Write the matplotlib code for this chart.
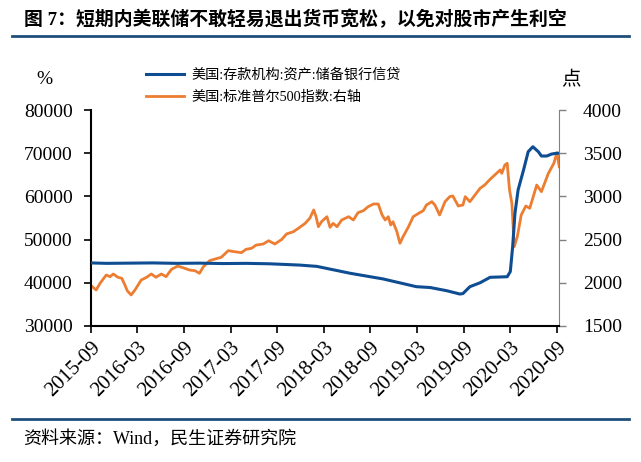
import matplotlib
matplotlib.use('Agg')
import matplotlib.pyplot as plt
from matplotlib.lines import Line2D

# month offsets from 2015-09 and values
credit_month = [0.0, 2.0, 5.0, 8.0, 11.0, 14.0, 17.0, 20.0, 23.0, 26.9, 29.1, 33.4,
                37.6, 41.9, 43.7, 45.8, 47.5, 47.9, 48.8, 50.1, 51.4, 53.6, 54.0,
                54.3, 54.6, 55.0, 55.7, 56.3, 56.9, 57.6, 58.0, 58.7, 59.3, 59.8, 60.3]
credit = [44600, 44500, 44550, 44600, 44500, 44550, 44450, 44500, 44400, 44100, 43800, 42200,
          40900, 39100, 38900, 38170, 37400, 37500, 39100, 40000, 41270, 41400, 42600,
          48350, 56100, 61500, 66100, 70350, 71500, 70350, 69350, 69350, 69800, 69950, 70000]

spx_month = [0.0, 0.7, 1.2, 2.0, 2.5, 2.9, 3.5, 4.0, 4.4, 4.7, 5.2, 5.7, 6.5, 7.2, 7.8,
             8.4, 9.1, 9.7, 10.4, 11.2, 12.1, 12.7, 13.4, 14.0, 14.5, 15.3, 15.9, 16.8,
             17.7, 18.5, 19.4, 20.0, 20.7, 21.3, 22.2, 22.9, 23.7, 24.6, 25.2, 26.1,
             26.9, 27.6, 28.2, 28.7, 29.0, 29.3, 29.7, 30.4, 30.8, 31.2, 31.7, 32.3,
             33.2, 33.8, 34.4, 35.1, 35.7, 36.4, 37.0, 37.5, 37.9, 38.3, 38.6, 38.9,
             39.4, 39.8, 40.2, 40.9, 41.5, 42.2, 42.8, 43.2, 43.9, 44.3, 44.9, 45.6,
             46.2, 46.6, 47.3, 47.9, 48.2, 48.8, 50.1, 50.7, 51.4, 52.0, 52.7, 52.9,
             53.3, 53.6, 53.9, 54.2, 54.5, 54.9, 55.4, 56.0, 56.5, 57.4, 58.0, 58.9,
             59.6, 60.0, 60.3]
spx = [1970, 1917, 1994, 2090, 2071, 2102, 2064, 2052, 1975, 1909, 1859, 1917, 2032, 2064, 2102,
       2064, 2102, 2071, 2156, 2194, 2168, 2148, 2140, 2110, 2186, 2256, 2272, 2295,
       2372, 2360, 2349, 2388, 2399, 2437, 2449, 2487, 2449, 2503, 2565, 2592,
       2642, 2688, 2747, 2843, 2765, 2649, 2707, 2765, 2642, 2688, 2649, 2727,
       2765, 2727, 2812, 2835, 2881, 2912, 2912, 2785, 2727, 2765, 2669, 2707,
       2592, 2457, 2534, 2649, 2765, 2804, 2835, 2900, 2939, 2900, 2785, 2939,
       2997, 3005, 2889, 2900, 2997, 2939, 3093, 3132, 3198, 3248, 3306, 3267,
       3364, 3383, 3074, 2920, 2418, 2534, 2785, 2889, 2862, 3132, 3055, 3267,
       3383, 3506, 3344]

tick_months = [0, 6, 12, 18, 24, 30, 36, 42, 48, 54, 60]
tick_labels = ['2015-09', '2016-03', '2016-09', '2017-03', '2017-09', '2018-03',
               '2018-09', '2019-03', '2019-09', '2020-03', '2020-09']

label_credit = '美国:存款机构:资产:储备银行信贷'
label_spx = '美国:标准普尔500指数:右轴'
title = '图 7：短期内美联储不敢轻易退出货币宽松，以免对股市产生利空'
source = '资料来源：Wind，民生证券研究院'

fonts = ['Liberation Serif', 'Noto Sans CJK SC', 'DejaVu Sans']
plt.rcParams['font.family'] = fonts

blue = '#0E4D92'
orange = '#ED7D31'
rule = '#1F4E79'

fig = plt.figure(figsize=(6.41, 4.62), dpi=100)
ax = fig.add_axes([0.1415, 0.2944, 0.7310, 0.4675])
ax2 = ax.twinx()

l1, = ax.plot(credit_month, credit, color=blue, lw=2.2, label=label_credit, zorder=3)
l2, = ax2.plot(spx_month, spx, color=orange, lw=2.0, label=label_spx)
ax.set_zorder(ax2.get_zorder() + 1)
ax.patch.set_visible(False)

ax.set_xlim(0, 60.3)
ax.set_ylim(30000, 80000)
ax2.set_ylim(1500, 4000)
ax.set_yticks(range(30000, 80001, 10000))
ax2.set_yticks(range(1500, 4001, 500))
ax.set_xticks(tick_months)
ax.set_xticklabels(tick_labels, rotation=45, ha='right', rotation_mode='anchor')

for a in (ax, ax2):
    a.spines['top'].set_visible(False)
ax.spines['right'].set_visible(False)
ax2.spines['left'].set_visible(False)
ax2.spines['bottom'].set_visible(False)
ax2.spines['right'].set_color('#808080')
ax.spines['left'].set_linewidth(1.5)
ax.spines['bottom'].set_linewidth(1.5)

ax.tick_params(axis='y', direction='out', length=5, width=1.2, labelsize=14, pad=8)
ax.tick_params(axis='x', direction='out', length=5, width=1.2, labelsize=15, pad=4)
ax2.tick_params(axis='y', direction='out', length=5, width=1, color='#808080',
                labelsize=14, pad=12)

fig.text(0.070, 0.827, '%', fontsize=14, ha='center', va='center')
fig.text(0.890, 0.826, '点', fontsize=14, ha='center', va='center')

fig.legend(handles=[l1, l2], loc='upper left', bbox_to_anchor=(0.228, 0.852),
           frameon=False, fontsize=10.2, handlelength=2.7, handletextpad=0.5,
           labelspacing=0.65, borderpad=0, borderaxespad=0)

fig.text(0.037, 0.957, title, fontsize=13.6, fontweight='bold', ha='left', va='center')
fig.add_artist(Line2D([0.018, 0.982], [0.921, 0.921], color=rule, lw=2,
                      transform=fig.transFigure))
fig.add_artist(Line2D([0.018, 0.982], [0.094, 0.094], color=rule, lw=2,
                      transform=fig.transFigure))
fig.text(0.036, 0.050, source, fontsize=13, ha='left', va='center')

fig.savefig('out.png', dpi=100)
